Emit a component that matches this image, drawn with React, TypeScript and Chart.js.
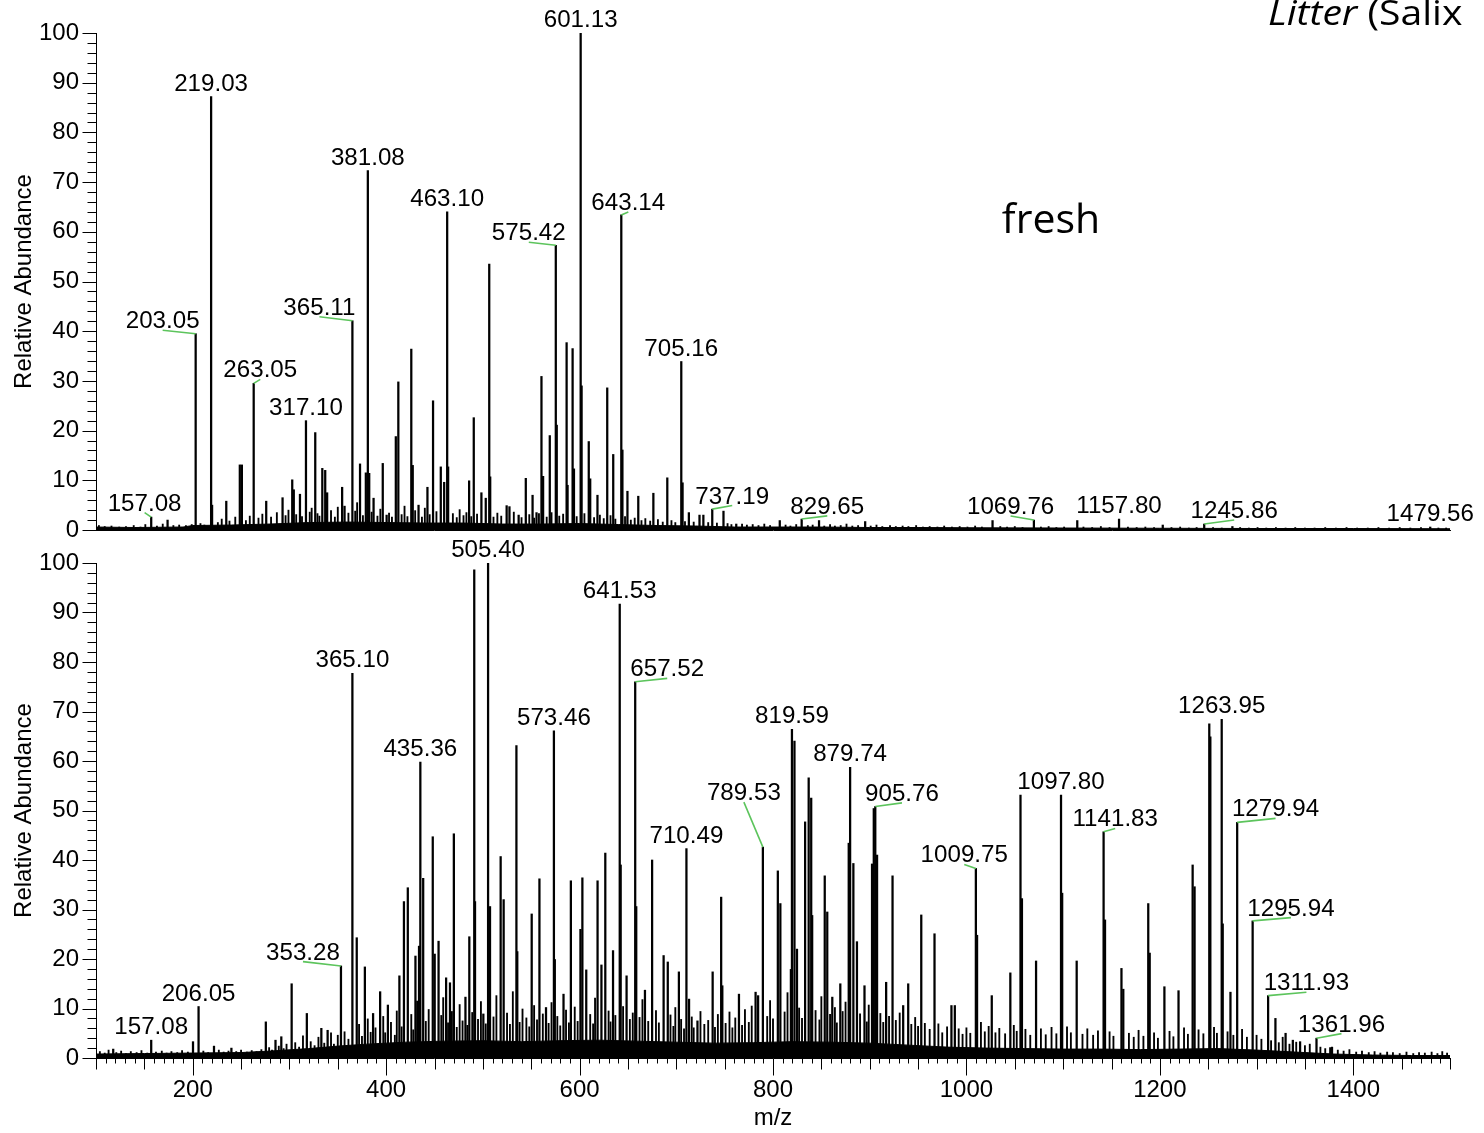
import React, { useEffect, useRef } from 'react';
import { Chart, registerables } from 'chart.js';

Chart.register(...registerables);

type Peak = [number, number];

// ---------- axes ----------
const MZ_MIN = 100;
const MZ_MAX = 1500;
const X_TICK_LABELS = [200, 400, 600, 800, 1000, 1200, 1400];
const Y_TICK_LABELS = [0, 10, 20, 30, 40, 50, 60, 70, 80, 90, 100];
const Y_AXIS_TITLE = 'Relative Abundance';
const X_AXIS_TITLE = 'm/z';
const PANEL_TAG = 'fresh';
const TITLE_ITALIC = 'Litter';
const TITLE_REST = ' (Salix';

// ---------- upper panel (fresh) ----------
const FRESH_PEAKS: Peak[] = [
  [157.08, 2.6], [174.0, 2.0], [203.05, 39.5], [219.03, 87.2], [220.03, 5.0], [234.7, 5.8],
  [248.7, 13.1], [250.8, 13.1], [263.05, 29.5], [276.0, 5.8], [292.9, 6.5], [302.9, 10.1],
  [304.5, 8.1], [310.9, 7.2], [317.1, 22.0], [326.7, 19.6], [334.0, 12.4], [337.0, 12.0],
  [339.0, 7.5], [354.5, 8.6], [357.0, 4.8], [365.11, 42.1], [373.0, 13.3], [379.0, 11.5],
  [381.08, 72.3], [382.5, 11.4], [387.0, 6.4], [396.5, 13.4], [400.5, 3.0], [410.0, 18.8],
  [412.6, 29.8], [426.0, 36.4], [427.5, 13.0], [433.5, 5.0], [442.7, 8.6], [448.5, 26.0],
  [456.5, 12.7], [460.0, 9.6], [463.1, 64.0], [464.1, 12.7], [485.8, 9.9], [490.6, 22.6],
  [498.5, 7.5], [503.0, 6.4], [506.6, 53.5], [507.6, 10.7], [524.6, 4.9], [527.5, 4.7],
  [537.0, 3.0], [544.4, 10.4], [551.4, 7.0], [555.5, 3.5], [560.6, 30.9], [562.3, 10.8],
  [569.2, 19.0], [575.42, 57.3], [576.4, 21.1], [586.6, 37.7], [587.6, 9.0], [592.8, 36.5],
  [594.2, 12.3], [601.13, 100], [602.1, 29.0], [609.5, 17.8], [611.0, 10.3], [618.5, 7.0],
  [628.6, 28.6], [634.8, 15.2], [643.14, 63.4], [644.3, 16.1], [649.5, 7.8], [660.7, 6.8],
  [676.3, 7.4], [690.7, 10.5], [705.16, 33.9], [706.5, 9.5], [713.0, 3.5], [724.0, 3.0],
  [728.0, 3.0], [737.19, 4.2], [748.8, 3.8], [762.0, 1.2], [807.0, 1.9], [829.65, 2.2],
  [847.6, 1.9], [895.3, 1.7], [1027.0, 1.9], [1069.76, 2.0], [1114.6, 1.9], [1157.8, 2.2],
  [1203.0, 1.0], [1245.86, 1.2], [1275.0, 0.7], [1479.56, 0.6],
];

const FRESH_NOISE: Peak[] = [
  [103, 0.9], [109, 0.7], [116, 0.8], [124, 0.6], [131, 0.7], [139, 0.9], [146, 0.6], [151, 1.1],
  [163, 0.8], [169, 1.2], [180, 0.9], [186, 1.0], [193, 0.9], [199, 1.1], [208, 1.3], [212, 1.0],
  [226, 1.5], [230, 2.2], [238, 1.8], [244, 2.6], [255, 1.9], [259, 2.8], [268, 2.4], [272, 3.2],
  [281, 2.6], [287, 3.5], [296, 2.9], [299, 4.0], [307, 3.1], [313, 2.7], [321, 3.6], [323, 4.4],
  [329, 3.3], [331, 2.8], [343, 3.9], [347, 2.6], [350, 4.6], [361, 3.4], [368, 3.8], [370, 5.5],
  [376, 2.9], [385, 3.6], [391, 2.8], [394, 4.2], [403, 3.4], [406, 2.6], [416, 3.1], [419, 4.8],
  [422, 2.7], [430, 3.9], [437, 2.6], [440, 4.4], [445, 3.1], [452, 3.7], [469, 3.3], [473, 2.5],
  [476, 4.1], [480, 2.9], [483, 3.5], [488, 2.7], [494, 3.2], [511, 2.6], [515, 3.4], [519, 2.8],
  [532, 3.6], [540, 2.5], [548, 3.1], [553, 2.4], [558, 3.3], [566, 2.6], [571, 3.5], [579, 2.8],
  [583, 3.2], [597, 2.7], [605, 3.3], [615, 2.5], [621, 3.0], [625, 2.3], [632, 2.9], [637, 2.2],
  [647, 2.7], [653, 2.0], [657, 2.4], [664, 1.9], [668, 2.3], [673, 1.8], [681, 2.1], [686, 1.6],
  [695, 1.9], [699, 1.5], [709, 1.7], [718, 1.6], [733, 1.5], [742, 1.4], [753, 1.3], [757, 1.1],
  [768, 1.2], [773, 1.0], [779, 1.1], [785, 0.9], [791, 1.2], [797, 0.9], [813, 1.0], [818, 0.8],
  [824, 1.1], [836, 0.9], [841, 1.0], [853, 0.8], [859, 1.1], [864, 0.8], [870, 0.9], [876, 1.2],
  [882, 0.8], [888, 0.9], [901, 0.8], [907, 1.0], [913, 0.7], [921, 0.9], [927, 0.7], [934, 0.8],
  [940, 0.7], [948, 0.9], [955, 0.6], [962, 0.7], [970, 0.6], [977, 0.8], [985, 0.6], [993, 0.7],
  [1001, 0.6], [1009, 0.8], [1016, 0.6], [1035, 0.7], [1042, 0.6], [1050, 0.7], [1058, 0.5],
  [1077, 0.6], [1085, 0.7], [1093, 0.5], [1101, 0.6], [1121, 0.6], [1130, 0.5], [1139, 0.7],
  [1148, 0.5], [1167, 0.6], [1176, 0.5], [1185, 0.6], [1194, 0.5], [1212, 0.5], [1221, 0.6],
  [1230, 0.4], [1238, 0.5], [1255, 0.5], [1264, 0.4], [1283, 0.5], [1292, 0.4], [1301, 0.5],
  [1310, 0.4], [1320, 0.5], [1330, 0.4], [1340, 0.5], [1350, 0.4], [1360, 0.4], [1371, 0.5],
  [1382, 0.4], [1393, 0.5], [1404, 0.4], [1415, 0.4], [1426, 0.5], [1437, 0.4], [1448, 0.5],
  [1459, 0.4], [1470, 0.5], [1488, 0.4], [1496, 0.4],
];

const FRESH_FLOOR: Peak[] = [
  [100, 0.6], [140, 0.5], [190, 0.6], [200, 0.9], [240, 1.0], [280, 1.2], [320, 1.5], [360, 1.6],
  [400, 1.5], [440, 1.4], [480, 1.4], [520, 1.2], [560, 1.2], [600, 1.3], [640, 1.1], [680, 0.9],
  [720, 0.8], [760, 0.6], [800, 0.6], [850, 0.6], [900, 0.5], [950, 0.5], [1000, 0.45],
  [1100, 0.4], [1200, 0.35], [1300, 0.3], [1400, 0.3], [1500, 0.25],
];

const FRESH_LABELED = [
  601.13, 219.03, 381.08, 463.1, 575.42, 643.14, 705.16, 365.11, 203.05, 263.05, 317.1,
  157.08, 737.19, 829.65, 1069.76, 1157.8, 1245.86, 1479.56,
];

// ---------- lower panel ----------
const LOWER_PEAKS: Peak[] = [
  [117.8, 1.8], [157.08, 3.6], [200.3, 3.3], [206.05, 10.4], [222.0, 2.4], [240.0, 2.0],
  [275.6, 7.3], [285.6, 3.6], [291.6, 4.3], [302.3, 15.0], [318.0, 9.0], [333.0, 6.0],
  [339.5, 5.6], [353.28, 18.6], [365.1, 77.7], [369.6, 24.3], [378.0, 18.4], [386.5, 9.0],
  [393.8, 13.4], [401.8, 10.7], [413.7, 16.6], [418.4, 31.6], [422.4, 34.4], [430.3, 20.6],
  [434.0, 22.6], [435.36, 59.8], [438.3, 36.3], [448.2, 44.7], [450.2, 21.0], [454.2, 23.6],
  [462.0, 16.2], [466.0, 15.2], [470.0, 45.3], [482.0, 12.3], [486.0, 24.5], [491.1, 98.6],
  [491.9, 31.6], [500.5, 8.9], [505.4, 100], [507.4, 30.6], [518.4, 40.7], [521.5, 32.0],
  [534.7, 63.1], [535.6, 21.5], [550.5, 29.1], [558.5, 36.2], [565.3, 10.2], [573.46, 66.1],
  [574.4, 19.9], [583.4, 12.9], [591.0, 35.8], [600.9, 26.0], [602.9, 36.4], [606.9, 17.8],
  [618.6, 35.8], [622.6, 18.8], [626.6, 41.4], [634.6, 21.7], [641.53, 91.7], [642.5, 39.0],
  [648.6, 16.6], [657.52, 76.0], [658.6, 30.6], [667.6, 13.7], [675.0, 40.0], [686.9, 20.7],
  [691.2, 19.4], [702.7, 17.4], [710.49, 42.3], [713.2, 11.9], [721.9, 7.5], [737.6, 17.4],
  [746.4, 32.5], [747.6, 14.6], [764.8, 12.9], [782.0, 13.3], [784.6, 12.6], [789.53, 42.6],
  [805.0, 37.8], [807.6, 31.2], [818.5, 17.9], [819.59, 66.4], [822.2, 64.0], [824.8, 22.0],
  [833.2, 47.7], [836.9, 56.6], [839.5, 52.5], [840.5, 28.8], [853.5, 36.8], [856.1, 29.5],
  [861.3, 12.3], [869.6, 15.0], [878.3, 43.4], [879.74, 58.7], [883.1, 39.3], [886.8, 23.5],
  [894.6, 14.6], [902.4, 39.2], [904.2, 50.4], [905.76, 50.8], [907.6, 41.0], [917.0, 15.3],
  [923.6, 36.8], [934.6, 10.6], [939.8, 15.0], [953.3, 28.9], [967.0, 25.1], [984.5, 10.6],
  [988.0, 10.6], [1009.75, 38.3], [1011.0, 24.8], [1026.2, 12.6], [1045.4, 17.2],
  [1055.9, 53.1], [1057.4, 32.2], [1072.0, 19.6], [1097.8, 53.1], [1099.0, 33.3],
  [1114.0, 19.6], [1141.83, 45.7], [1143.3, 27.9], [1160.3, 18.1], [1162.2, 13.9],
  [1188.0, 31.2], [1189.5, 21.2], [1204.7, 14.4], [1219.3, 13.6], [1233.9, 39.0],
  [1235.9, 34.6], [1251.1, 67.5], [1252.2, 64.9], [1263.95, 68.4], [1265.0, 27.1],
  [1273.0, 13.3], [1279.94, 47.6], [1295.94, 27.7], [1311.93, 12.6], [1319.5, 8.0],
  [1330.0, 5.0], [1337.5, 3.6], [1345.0, 3.3], [1361.96, 4.0], [1378.0, 2.2],
];

const LOWER_NOISE: Peak[] = [
  [104, 1.3], [109, 1.0], [113, 1.6], [121, 1.1], [126, 1.4], [131, 0.9], [136, 1.3], [142, 1.1],
  [147, 1.5], [153, 1.0], [162, 1.2], [168, 1.4], [173, 1.0], [178, 1.3], [184, 1.1], [189, 1.5],
  [195, 1.2], [211, 1.4], [216, 1.1], [227, 1.6], [232, 1.2], [237, 1.4], [245, 1.3], [250, 1.6],
  [256, 1.2], [261, 1.5], [266, 1.3], [271, 1.7], [279, 2.1], [282, 1.6], [289, 2.4], [294, 1.9],
  [297, 2.8], [306, 3.1], [310, 2.2], [314, 4.5], [322, 3.3], [326, 2.5], [330, 4.2], [336, 3.0],
  [343, 5.1], [346, 2.8], [350, 4.6], [357, 5.3], [361, 3.8], [372, 6.8], [375, 4.4], [381, 7.9],
  [384, 5.2], [389, 6.1], [397, 8.4], [399, 5.1], [405, 7.2], [409, 4.6], [411, 9.5], [416, 6.3],
  [426, 8.8], [428, 5.7], [432, 11.5], [441, 7.4], [444, 9.8], [457, 8.6], [459, 12.2], [464, 7.1],
  [468, 9.4], [473, 6.2], [476, 10.8], [479, 7.5], [484, 6.6], [489, 9.2], [495, 7.8], [498, 11.4],
  [503, 6.9], [511, 8.3], [514, 12.6], [525, 9.1], [528, 6.8], [531, 13.4], [538, 7.2], [541, 9.9],
  [545, 8.1], [548, 6.3], [553, 10.6], [556, 7.7], [562, 8.9], [568, 7.0], [571, 11.2], [577, 8.4],
  [580, 6.5], [586, 9.7], [589, 7.1], [595, 10.3], [598, 7.4], [611, 8.8], [614, 6.9], [616, 12.1],
  [630, 9.5], [632, 7.3], [637, 8.6], [645, 10.4], [652, 7.8], [655, 9.1], [662, 8.2], [665, 11.8],
  [671, 7.4], [679, 9.6], [682, 7.1], [694, 8.7], [697, 6.4], [699, 10.2], [705, 7.8], [708, 5.9],
  [716, 8.3], [718, 6.1], [725, 9.4], [729, 6.8], [733, 7.6], [740, 6.2], [743, 8.8], [751, 7.0],
  [755, 9.3], [758, 6.1], [761, 8.1], [768, 6.6], [771, 9.8], [775, 7.2], [778, 10.5], [794, 8.4],
  [797, 11.6], [800, 7.9], [812, 9.3], [815, 13.2], [827, 10.1], [830, 8.0], [844, 9.6], [848, 7.7],
  [850, 12.4], [859, 8.8], [864, 10.2], [866, 7.1], [872, 9.4], [875, 11.3], [890, 8.9], [897, 7.3],
  [899, 10.7], [911, 9.0], [914, 7.2], [920, 8.4], [927, 7.6], [931, 9.1], [943, 6.8], [947, 8.2],
  [950, 6.4], [957, 7.0], [962, 5.8], [971, 6.9], [975, 5.1], [980, 6.3], [992, 5.9], [996, 4.8],
  [1000, 6.1], [1004, 5.0], [1015, 7.2], [1019, 5.3], [1023, 6.4], [1030, 5.1], [1034, 6.0],
  [1040, 4.9], [1049, 6.6], [1052, 5.4], [1061, 5.8], [1066, 4.6], [1077, 5.9], [1082, 4.7],
  [1088, 6.2], [1093, 4.9], [1104, 6.3], [1108, 5.1], [1120, 4.8], [1125, 5.9], [1131, 4.6],
  [1136, 5.5], [1148, 5.3], [1152, 4.4], [1168, 5.0], [1173, 4.2], [1178, 5.6], [1183, 4.4],
  [1194, 5.1], [1198, 4.0], [1210, 5.4], [1214, 4.3], [1225, 6.1], [1229, 4.8], [1240, 5.7],
  [1245, 4.9], [1256, 6.2], [1259, 5.0], [1270, 5.3], [1276, 4.6], [1285, 5.8], [1290, 4.2],
  [1300, 4.6], [1305, 3.8], [1315, 3.5], [1323, 3.1], [1327, 4.2], [1334, 2.8], [1341, 3.2],
  [1350, 2.5], [1355, 2.8], [1366, 2.2], [1371, 1.9], [1376, 2.1], [1384, 1.6], [1390, 1.4],
  [1396, 1.7], [1403, 1.2], [1409, 1.4], [1416, 1.1], [1422, 1.3], [1428, 1.0], [1435, 1.2],
  [1441, 1.1], [1448, 0.9], [1455, 1.2], [1462, 0.9], [1468, 1.1], [1474, 1.0], [1481, 1.2],
  [1487, 0.9], [1492, 1.3], [1497, 1.0],
];

const LOWER_FLOOR: Peak[] = [
  [100, 0.8], [150, 0.9], [200, 1.0], [250, 1.1], [280, 1.4], [320, 1.9], [350, 2.4], [380, 2.8],
  [420, 3.2], [460, 3.4], [500, 3.5], [540, 3.3], [580, 3.5], [620, 3.6], [660, 3.4], [700, 3.2],
  [740, 3.0], [780, 3.1], [820, 3.3], [860, 3.2], [900, 3.0], [940, 2.6], [980, 2.2], [1020, 2.0],
  [1060, 1.9], [1100, 1.8], [1140, 1.8], [1180, 1.7], [1220, 1.8], [1260, 1.9], [1300, 1.6],
  [1340, 1.2], [1380, 0.8], [1420, 0.6], [1460, 0.5], [1500, 0.5],
];

const LOWER_LABELED = [
  505.4, 641.53, 365.1, 657.52, 573.46, 435.36, 819.59, 879.74, 789.53, 905.76, 710.49,
  1097.8, 1009.75, 1263.95, 1141.83, 1279.94, 1295.94, 1311.93, 1361.96, 353.28, 206.05, 157.08,
];

// ---------- label placement (pixel offsets of leader-line end from peak top) ----------
const FRESH_LEADERS: Record<string, [number, number]> = {
  '575.42': [-27, -3], '643.14': [7, -3], '365.11': [-33, -4], '203.05': [-33, -3.5],
  '263.05': [6.6, -4], '157.08': [-6.6, -4.4], '737.19': [20, -3.6], '829.65': [25.6, -3.2],
  '1069.76': [-23.3, -4], '1245.86': [30, -4],
};
const LOWER_LEADERS: Record<string, [number, number]> = {
  '657.52': [32, -3.4], '353.28': [-38, -4.3], '789.53': [-19, -45], '905.76': [26.7, -3.7],
  '1009.75': [-11.6, -4], '1141.83': [11.6, -3.3], '1279.94': [38.4, -4], '1295.94': [38.3, -3.3],
  '1311.93': [38.3, -3.4], '1361.96': [25, -4.6],
};

const ARIAL = '"Liberation Sans", Arial, Helvetica, sans-serif';
const CALIBRI = '"Open Sans", "Noto Sans", sans-serif';

const peakLabelPlugin = {
  id: 'peakLabels',
  afterDatasetsDraw(chart: any, _args: any, opts: any) {
    if (!opts || !opts.labels) return;
    const { ctx } = chart;
    const xs = chart.scales.x;
    const ys = chart.scales.y;
    ctx.save();
    ctx.font = `23px ${ARIAL}`;
    ctx.textAlign = 'center';
    ctx.textBaseline = 'alphabetic';
    ctx.fillStyle = '#000';
    for (const mz of opts.labels as number[]) {
      const pk = (opts.peaks as Peak[]).find((p) => p[0] === mz);
      if (!pk) continue;
      const text = mz.toFixed(2);
      const px = xs.getPixelForValue(pk[0]);
      const py = ys.getPixelForValue(pk[1]);
      const lead = opts.leaders[text];
      let tx = px;
      let ty = py - 6;
      if (lead) {
        const ex = px + lead[0];
        const ey = py + lead[1];
        ctx.save();
        ctx.strokeStyle = '#5cc45c';
        ctx.lineWidth = 1.6;
        ctx.beginPath();
        ctx.moveTo(px, py);
        ctx.lineTo(ex, ey);
        ctx.stroke();
        ctx.restore();
        tx = ex;
        ty = ey - 2;
      }
      ctx.save();
      ctx.translate(tx, ty);
      ctx.scale(1.05, 1);
      ctx.fillText(text, 0, 0);
      ctx.restore();
    }
    ctx.restore();
  },
};

const axisTicksPlugin = {
  id: 'axisTicks',
  afterDraw(chart: any, _args: any, opts: any) {
    const { ctx } = chart;
    const xs = chart.scales.x;
    const ys = chart.scales.y;
    ctx.save();
    ctx.strokeStyle = '#000';
    ctx.lineWidth = 1;
    ctx.beginPath();
    const ax = Math.round(ys.right) + 0.5;
    for (let v = ys.min; v <= ys.max; v += 2) {
      const py = Math.round(ys.getPixelForValue(v)) + 0.5;
      const len = v % 10 === 0 ? 14 : 9;
      ctx.moveTo(ax - len, py);
      ctx.lineTo(ax, py);
    }
    if (opts && opts.xTicks) {
      const ay = Math.round(xs.top) + 0.5;
      for (let v = xs.min; v <= xs.max; v += 10) {
        const px = Math.round(xs.getPixelForValue(v)) + 0.5;
        const len = v % 200 === 0 ? 17 : v % 50 === 0 ? 11 : 5;
        ctx.moveTo(px, ay);
        ctx.lineTo(px, ay + len);
      }
    }
    ctx.stroke();
    ctx.restore();
  },
};

const panelTextPlugin = {
  id: 'panelText',
  afterDraw(chart: any, _args: any, opts: any) {
    if (!opts || !opts.tag) return;
    const { ctx } = chart;
    ctx.save();
    ctx.fillStyle = '#000';
    ctx.textBaseline = 'alphabetic';
    ctx.font = `41px ${CALIBRI}`;
    ctx.textAlign = 'center';
    ctx.fillText(opts.tag, 1051, 233);
    ctx.textAlign = 'left';
    ctx.translate(1268, 25);
    ctx.scale(1.15, 1);
    ctx.font = `italic 34px ${CALIBRI}`;
    ctx.fillText(opts.titleItalic, 0, 0);
    const w = ctx.measureText(opts.titleItalic).width;
    ctx.font = `34px ${CALIBRI}`;
    ctx.fillText(opts.titleRest, w, 0);
    ctx.restore();
  },
};

interface Panel {
  peaks: Peak[];
  noise: Peak[];
  floor: Peak[];
  labels: number[];
  leaders: Record<string, [number, number]>;
  showX: boolean;
  xAxisHeight: number;
  top: number;
  tag?: string;
}

function toXY(list: Peak[]) {
  return list.map(([x, y]) => ({ x, y }));
}

function createSpectrum(canvas: HTMLCanvasElement, panel: Panel) {
  return new Chart(canvas, {
    type: 'bar',
    data: {
      datasets: [
        {
          type: 'line',
          data: toXY(panel.floor),
          borderColor: '#000',
          backgroundColor: '#000',
          borderWidth: 1,
          pointRadius: 0,
          fill: 'origin',
          tension: 0,
          order: 3,
        } as any,
        {
          type: 'bar',
          data: toXY(panel.noise),
          backgroundColor: '#000',
          barThickness: 1.2,
          grouped: false,
          order: 2,
        } as any,
        {
          type: 'bar',
          data: toXY(panel.peaks),
          backgroundColor: '#000',
          barThickness: 1.6,
          grouped: false,
          order: 1,
        } as any,
      ],
    },
    options: {
      responsive: false,
      animation: false,
      events: [],
      layout: { padding: { left: 0, right: 34, top: panel.top, bottom: 0 } },
      plugins: {
        legend: { display: false },
        tooltip: { enabled: false },
        peakLabels: { labels: panel.labels, peaks: panel.peaks, leaders: panel.leaders },
        axisTicks: { xTicks: panel.showX },
        panelText: panel.tag
          ? { tag: panel.tag, titleItalic: TITLE_ITALIC, titleRest: TITLE_REST }
          : {},
      } as any,
      scales: {
        x: {
          type: 'linear',
          min: MZ_MIN,
          max: MZ_MAX,
          offset: false,
          grid: { display: false, drawTicks: false, tickLength: 0 },
          border: { display: true, color: '#000', width: 1 },
          ticks: {
            display: panel.showX,
            padding: 18,
            color: '#000',
            font: { family: ARIAL, size: 24 },
            maxRotation: 0,
            autoSkip: false,
            callback: (v: any) => String(v),
          },
          afterBuildTicks: (s: any) => {
            s.ticks = X_TICK_LABELS.map((v) => ({ value: v }));
          },
          afterFit: (s: any) => {
            s.height = panel.xAxisHeight;
          },
          title: {
            display: panel.showX,
            text: X_AXIS_TITLE,
            color: '#000',
            font: { family: ARIAL, size: 24 },
            padding: { top: 0, bottom: 0 },
          },
        },
        y: {
          type: 'linear',
          min: 0,
          max: 100,
          grid: { display: false, drawTicks: false, tickLength: 0 },
          border: { display: true, color: '#000', width: 1 },
          ticks: {
            padding: 17,
            color: '#000',
            font: { family: ARIAL, size: 24 },
            autoSkip: false,
            callback: (v: any) => String(v),
          },
          afterBuildTicks: (s: any) => {
            s.ticks = Y_TICK_LABELS.map((v) => ({ value: v }));
          },
          afterFit: (s: any) => {
            s.width = 96;
          },
          title: {
            display: true,
            text: Y_AXIS_TITLE,
            color: '#000',
            font: { family: ARIAL, size: 24 },
            padding: { top: 10, bottom: 0 },
          },
        },
      },
    } as any,
    plugins: [peakLabelPlugin, axisTicksPlugin, panelTextPlugin] as any,
  });
}

export default function App() {
  const topRef = useRef<HTMLCanvasElement>(null);
  const botRef = useRef<HTMLCanvasElement>(null);

  useEffect(() => {
    const charts: Chart[] = [];
    if (topRef.current) {
      charts.push(
        createSpectrum(topRef.current, {
          peaks: FRESH_PEAKS,
          noise: FRESH_NOISE,
          floor: FRESH_FLOOR,
          labels: FRESH_LABELED,
          leaders: FRESH_LEADERS,
          showX: false,
          xAxisHeight: 33,
          top: 33,
          tag: PANEL_TAG,
        })
      );
    }
    if (botRef.current) {
      charts.push(
        createSpectrum(botRef.current, {
          peaks: LOWER_PEAKS,
          noise: LOWER_NOISE,
          floor: LOWER_FLOOR,
          labels: LOWER_LABELED,
          leaders: LOWER_LEADERS,
          showX: true,
          xAxisHeight: 75,
          top: 33,
        })
      );
    }
    return () => charts.forEach((c) => c.destroy());
  }, []);

  return (
    <div
      style={{
        position: 'absolute',
        left: 0,
        top: 0,
        width: 1484,
        height: 1133,
        background: '#fff',
        overflow: 'hidden',
      }}
    >
      <canvas ref={topRef} width={1484} height={563} style={{ position: 'absolute', left: 0, top: 0 }} />
      <canvas ref={botRef} width={1484} height={603} style={{ position: 'absolute', left: 0, top: 530 }} />
    </div>
  );
}
